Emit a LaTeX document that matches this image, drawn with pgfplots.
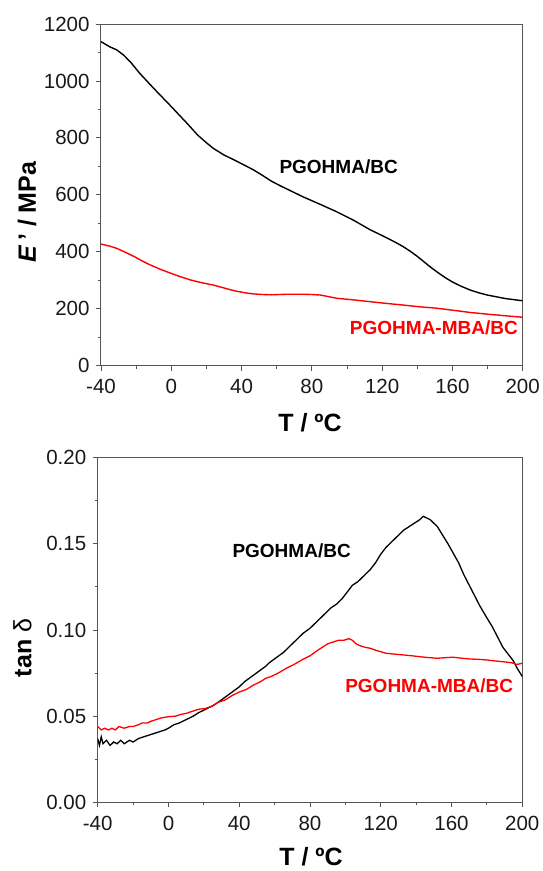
\documentclass[border=0pt]{standalone}
\usepackage{pgfplots}
\pgfplotsset{compat=1.18}
\usepackage{fontspec}
\setmainfont{Liberation Sans}
\definecolor{axgray}{HTML}{555555}
\definecolor{myred}{HTML}{FF0000}
\pgfplotsset{panel/.style={
  scale only axis,
  xmin=-40, xmax=200,
  xtick={-40,0,40,80,120,160,200},
  minor x tick num=1,
  minor y tick num=1,
  tick align=outside,
  xtick pos=left, ytick pos=left,
  axis line style={axgray, line width=1pt},
  every tick/.style={axgray, line width=0.9pt},
  major tick length=5pt, minor tick length=3pt,
  tick label style={font=\fontsize{20.5}{23}\selectfont, text=black!90},
  xticklabel shift={5pt}, yticklabel shift={3pt},
  /pgf/number format/assume math mode=true,
  /pgf/number format/1000 sep={},
  clip=true,
}}
\begin{document}
\begin{tikzpicture}
\useasboundingbox (0pt,0pt) rectangle (542pt,-871pt);
% ---------- top panel ----------
\begin{axis}[panel, at={(101pt,-365.7pt)}, anchor=south west,
  width=421.7pt, height=341.7pt,
  ymin=0, ymax=1200, ytick={0,200,...,1200}]
\addplot[black, line width=1.4pt] coordinates {
(-40,1138) (-35,1120) (-31,1109) (-27,1090) (-23,1065) (-18,1027) (-10,974)
(-5,942) (0,910) (5,877) (9,851) (15,810) (20,783) (24,763) (30,740) (36,722)
(42,703) (47,687) (52,668) (57,648) (62,632) (68,614) (75,593) (85,566)
(94,541) (104,510) (113,478) (122,451) (128,432) (132,418) (136,402)
(140,384) (144,364) (148,344) (152,326) (156,309) (160,294) (165,279)
(170,266) (175,256) (180,248) (185,242) (190,236) (195,232) (200,228)};
\addplot[myred, line width=1.4pt] coordinates {
(-40,427) (-35,420) (-31,412) (-26,398) (-21,383) (-16,366) (-12,354)
(-6,338) (0,324) (5,313) (11,301) (17,292) (24,283) (30,273) (36,263)
(42,256) (47,252) (52,250) (57,249) (66,251) (75,251) (80,250) (85,248)
(90,242) (94,237) (104,231) (113,225) (122,219) (132,213) (141,207)
(151,202) (160,195) (170,187) (180,181) (189,176) (200,170)};
\end{axis}
% ---------- bottom panel ----------
\begin{axis}[panel, at={(97.7pt,-802.3pt)}, anchor=south west,
  width=424.6pt, height=344.6pt,
  ymin=0, ymax=0.20, ytick={0,0.05,0.10,0.15,0.20},
  yticklabels={0.00,0.05,0.10,0.15,0.20}]
\addplot[black, line width=1.3pt] coordinates {
(-40,0.037) (-39,0.033) (-38,0.038) (-37,0.034) (-35,0.036) (-33,0.033)
(-31,0.035) (-29,0.034) (-27,0.036) (-25,0.034) (-22,0.036) (-20,0.035)
(-17,0.037) (-14,0.038) (-11,0.039) (-8,0.040) (-5,0.041) (-2,0.042)
(0,0.043) (3,0.045) (6,0.046) (10,0.048) (14,0.050) (17,0.052) (21,0.054)
(25,0.056) (28,0.058) (32,0.061) (36,0.064) (40,0.067) (43,0.070) (47,0.073)
(51,0.076) (55,0.079) (57,0.081) (61,0.084) (65,0.087) (69,0.091) (73,0.095)
(76,0.098) (80,0.101) (84,0.105) (88,0.109) (92,0.113) (95,0.115) (98,0.118)
(101,0.122) (104,0.126) (107,0.128) (110,0.131) (114,0.135) (117,0.139)
(120,0.144) (123,0.148) (126,0.151) (129,0.154) (133,0.158) (136,0.160)
(139,0.162) (142,0.164) (144,0.166) (146,0.165) (148,0.164) (150,0.162)
(152,0.160) (155,0.155) (158,0.150) (161,0.1445) (164,0.139) (167,0.132)
(170,0.126) (173,0.120) (176,0.114) (180,0.107) (183,0.102) (186,0.096)
(189,0.090) (192,0.086) (195,0.082) (197,0.078) (200,0.073)};
\addplot[myred, line width=1.3pt] coordinates {
(-40,0.044) (-38,0.042) (-36,0.043) (-34,0.042) (-32,0.043) (-30,0.042)
(-28,0.044) (-25,0.043) (-22,0.044) (-20,0.044) (-17,0.045) (-15,0.046)
(-12,0.046) (-10,0.047) (-7,0.048) (-4,0.049) (0,0.0497) (4,0.050) (7,0.051)
(10,0.0516) (14,0.053) (17,0.054) (21,0.0545) (25,0.056) (28,0.058)
(32,0.0594) (36,0.062) (40,0.064) (44,0.0655) (48,0.068) (52,0.070)
(55,0.072) (58,0.073) (62,0.075) (67,0.078) (71,0.080) (76,0.083) (80,0.085)
(84,0.088) (87,0.090) (90,0.092) (93,0.093) (96,0.094) (99,0.094)
(102,0.095) (104,0.094) (106,0.092) (108,0.091) (111,0.090) (114,0.0894)
(118,0.088) (123,0.0865) (128,0.086) (133,0.0855) (138,0.085) (142,0.0845)
(147,0.084) (152,0.0836) (157,0.084) (161,0.0842) (166,0.0836) (170,0.0832)
(175,0.083) (180,0.0826) (185,0.082) (189,0.0816) (194,0.081) (197,0.080)
(200,0.0807)};
\end{axis}
% ---------- labels ----------
\tikzset{lab/.style={inner sep=0pt, font=\fontsize{19}{22}\selectfont\bfseries}}
\node[lab, anchor=west] at (279.3pt,-167pt) {PGOHMA/BC};
\node[lab, anchor=east, text=myred] at (518pt,-328pt) {PGOHMA-MBA/BC};
\node[lab, anchor=west] at (232.3pt,-551pt) {PGOHMA/BC};
\node[lab, anchor=east, text=myred] at (513.3pt,-686pt) {PGOHMA-MBA/BC};
\node[inner sep=0pt, anchor=base, font=\fontsize{25}{28}\selectfont\bfseries] at (310pt,-431.7pt) {T / ºC};
\node[inner sep=0pt, anchor=base, font=\fontsize{25}{28}\selectfont\bfseries] at (311pt,-865pt) {T / ºC};
\node[inner sep=0pt, rotate=90, font=\fontsize{25}{28}\selectfont\bfseries] at (27pt,-212pt) {\textit{E}\,' / MPa};
\node[inner sep=0pt, rotate=90, font=\fontsize{25}{28}\selectfont] at (22.5pt,-648pt) {\textbf{tan} δ};
\end{tikzpicture}
\end{document}
